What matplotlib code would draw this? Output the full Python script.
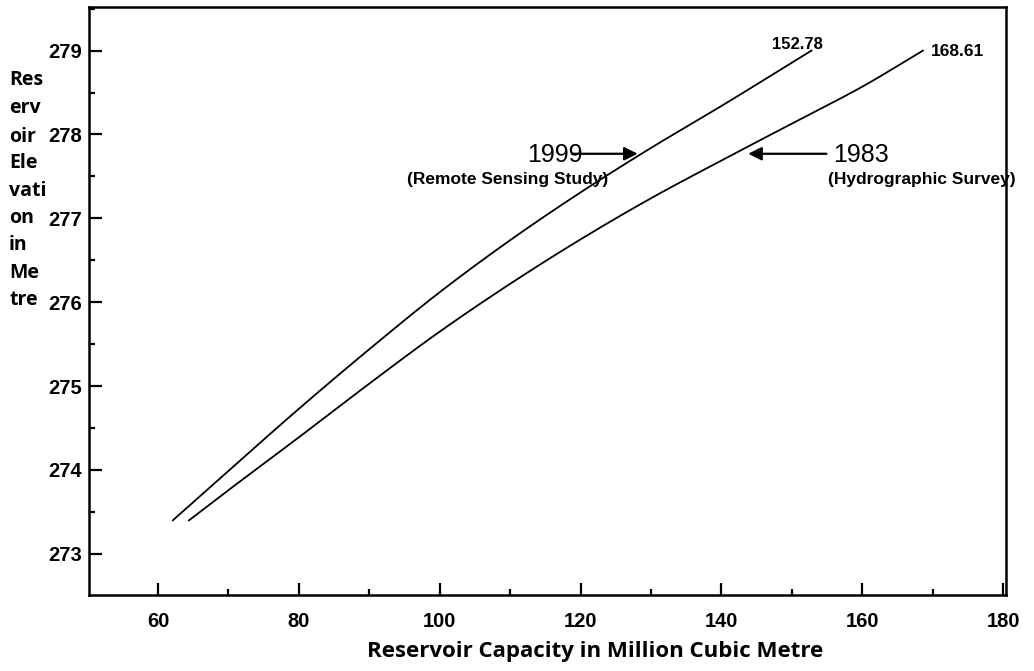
import matplotlib
matplotlib.use("Agg")
import matplotlib.pyplot as plt
import numpy as np
from matplotlib.ticker import MultipleLocator

# Elevation-capacity curves of the reservoir
cap_1999 = [62.1, 70, 80, 90, 100, 110, 120, 130, 140, 152.78]
elev_1999 = [273.40, 273.99, 274.73, 275.44, 276.12, 276.74, 277.31, 277.84, 278.34, 279.00]

cap_1983 = [64.4, 70, 80, 90, 100, 110, 120, 130, 140, 150, 160, 168.61]
elev_1983 = [273.40, 273.76, 274.39, 275.03, 275.65, 276.22, 276.75, 277.24, 277.69, 278.13, 278.57, 279.00]

x_ticks = [60, 80, 100, 120, 140, 160, 180]
y_ticks = [273, 274, 275, 276, 277, 278, 279]

fig = plt.figure(figsize=(10.34, 6.71), dpi=100)
ax = fig.add_axes([0.0861, 0.1133, 0.8868, 0.8763])


def smooth(xs, ys, n=200):
    xs = np.asarray(xs, float)
    ys = np.asarray(ys, float)
    xn = np.linspace(xs[0], xs[-1], n)
    # monotone cubic (PCHIP-like) interpolation
    h = np.diff(xs)
    d = np.diff(ys) / h
    m = np.zeros_like(ys)
    m[0], m[-1] = d[0], d[-1]
    for i in range(1, len(xs) - 1):
        if d[i - 1] * d[i] > 0:
            w1 = 2 * h[i] + h[i - 1]
            w2 = h[i] + 2 * h[i - 1]
            m[i] = (w1 + w2) / (w1 / d[i - 1] + w2 / d[i])
    idx = np.clip(np.searchsorted(xs, xn) - 1, 0, len(xs) - 2)
    t = (xn - xs[idx]) / h[idx]
    h00 = 2 * t**3 - 3 * t**2 + 1
    h10 = t**3 - 2 * t**2 + t
    h01 = -2 * t**3 + 3 * t**2
    h11 = t**3 - t**2
    yn = h00 * ys[idx] + h10 * h[idx] * m[idx] + h01 * ys[idx + 1] + h11 * h[idx] * m[idx + 1]
    return xn, yn


for xs, ys in [(cap_1999, elev_1999), (cap_1983, elev_1983)]:
    xn, yn = smooth(xs, ys)
    ax.plot(xn, yn, color="black", lw=1.3)

ax.set_xlim(50.2, 180.4)
ax.set_ylim(272.51, 279.52)
ax.set_xticks(x_ticks)
ax.set_yticks(y_ticks)
ax.xaxis.set_minor_locator(MultipleLocator(10))
ax.yaxis.set_minor_locator(MultipleLocator(0.5))
ax.tick_params(which="major", direction="in", length=9, width=1.6,
               labelsize=14.5)
ax.tick_params(axis="x", which="major", pad=12)
ax.tick_params(axis="y", which="major", pad=5)
ax.tick_params(which="minor", direction="in", length=4, width=1.6)
for lab in ax.get_xticklabels() + ax.get_yticklabels():
    lab.set_fontweight("bold")
    lab.set_family("Liberation Sans")
for s in ax.spines.values():
    s.set_linewidth(1.8)

# end-point capacity labels
ax.text(150.8, 279.07, f"{cap_1999[-1]:.2f}", ha="center",
        va="center", fontsize=12, fontweight="bold", family="Liberation Sans")
ax.text(169.7, 278.99, f"{cap_1983[-1]:.2f}", ha="left",
        va="center", fontsize=12.5, fontweight="bold", family="Liberation Sans")

# survey annotations
ax.annotate("", xy=(128.5, 277.77), xytext=(118.4, 277.77),
            arrowprops=dict(arrowstyle="-|>", color="black", lw=1.6,
                            mutation_scale=20))
ax.text(116.3, 277.76, "1999", ha="center", va="center", fontsize=18,
        family="Liberation Sans")
ax.text(109.7, 277.46, "(Remote Sensing Study)", ha="center", va="center",
        fontsize=12.5, fontweight="bold", family="Liberation Sans")

ax.annotate("", xy=(143.4, 277.77), xytext=(155.3, 277.77),
            arrowprops=dict(arrowstyle="-|>", color="black", lw=1.6,
                            mutation_scale=20))
ax.text(155.9, 277.76, "1983", ha="left", va="center", fontsize=18,
        family="Liberation Sans")
ax.text(168.4, 277.46, "(Hydrographic Survey)", ha="center", va="center",
        fontsize=12.5, fontweight="bold", family="Liberation Sans")

# axis titles
ylab = ["Res", "erv", "oir", "Ele", "vati", "on", "in", "Me", "tre"]
ys_px = [80, 108, 137, 163, 191, 218, 245, 273, 300]
for t, yp in zip(ylab, ys_px):
    fig.text(9 / 1034, 1 - yp / 671, t, ha="left", va="center",
             fontsize=14, fontweight="bold", family="Open Sans")
fig.text(595 / 1034, 1 - 651 / 671, "Reservoir Capacity in Million Cubic Metre",
         ha="center", va="center", fontsize=16, fontweight="bold",
         family="Open Sans")

fig.savefig("out.png", dpi=100)
